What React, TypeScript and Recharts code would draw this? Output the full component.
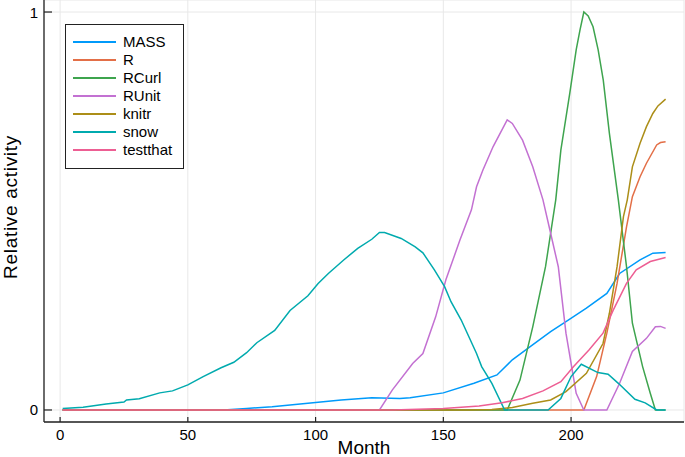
import React from "react";
import { LineChart, Line, XAxis, YAxis, CartesianGrid, Legend, Label } from "recharts";

// [month, relative activity]
const mass: [number, number][] = [
  [1, 0], [64, 0], [73, 0.004], [83, 0.008], [99, 0.018], [110, 0.025], [122, 0.031],
  [133, 0.029], [137, 0.031], [150, 0.043], [162, 0.067], [171, 0.088], [177, 0.126],
  [184, 0.159], [192, 0.197], [198, 0.222], [206, 0.256], [214, 0.293], [219, 0.343],
  [227, 0.377], [232, 0.394], [237, 0.396],
];
const rBase: [number, number][] = [
  [1, 0], [205, 0], [210, 0.084], [214, 0.193], [218, 0.318], [221.7, 0.46], [224, 0.536],
  [227, 0.586], [229.5, 0.62], [233.5, 0.666], [235, 0.672], [237, 0.674],
];
const rcurl: [number, number][] = [
  [1, 0], [175, 0], [180, 0.075], [185, 0.209], [190, 0.36], [194, 0.528], [196, 0.653],
  [199.5, 0.796], [202, 0.905], [203.5, 0.955], [205, 1.0], [206.7, 0.99], [208.6, 0.963],
  [210.6, 0.905], [212.6, 0.829], [215, 0.695], [218.5, 0.528], [221.7, 0.36], [224, 0.218],
  [228, 0.109], [231, 0.042], [233, 0], [237, 0],
];
const runit: [number, number][] = [
  [1, 0], [125, 0], [130, 0.05], [138, 0.117], [142, 0.142], [147, 0.234], [151, 0.327],
  [156.5, 0.427], [161, 0.503], [163, 0.561], [165.5, 0.603], [169.5, 0.662], [175, 0.729],
  [177, 0.72], [181, 0.678], [185, 0.611], [189, 0.528], [192, 0.444], [195, 0.36],
  [198, 0.193], [202, 0.042], [205, 0], [214, 0], [219, 0.067], [224, 0.147], [229.5, 0.18],
  [233, 0.209], [235, 0.21], [237, 0.205],
];
const knitr: [number, number][] = [
  [1, 0], [160, 0], [169, 0.001], [177, 0.006], [185, 0.017], [192, 0.025], [198, 0.046],
  [206, 0.092], [212.5, 0.167], [215, 0.243], [218, 0.36], [220.5, 0.486], [222, 0.528],
  [224, 0.611], [227, 0.67], [229.5, 0.712], [232, 0.745], [234, 0.764], [237, 0.781],
];
const snow: [number, number][] = [
  [1, 0.004], [9, 0.007], [18, 0.015], [25, 0.02], [26, 0.025], [31, 0.028], [39, 0.043],
  [44, 0.048], [50, 0.063], [56, 0.084], [63, 0.106], [68, 0.12], [73, 0.144], [77, 0.169],
  [84, 0.2], [90, 0.25], [97, 0.287], [101, 0.318], [105, 0.343], [111, 0.377],
  [116.5, 0.406], [122, 0.429], [125, 0.446], [127, 0.446], [133.5, 0.431], [139, 0.41],
  [142, 0.395], [146.5, 0.352], [150.5, 0.31], [153, 0.272], [157, 0.226], [163, 0.142],
  [165, 0.109], [169, 0.067], [174, 0], [191, 0], [196, 0.029], [200, 0.084], [204, 0.115],
  [210.5, 0.094], [214.5, 0.09], [218.5, 0.067], [225, 0.027], [229, 0.018], [233.5, 0], [237, 0],
];
const testthat: [number, number][] = [
  [1, 0], [130, 0], [150, 0.004], [164, 0.01], [173, 0.018], [181, 0.029], [189, 0.048],
  [196, 0.071], [201, 0.109], [207, 0.151], [212.5, 0.193], [216.5, 0.251], [221.7, 0.318],
  [225.5, 0.352], [231, 0.373], [237, 0.383],
];

const monthTicks = [0, 50, 100, 150, 200];
const activityTicks = [0, 1];

const series = [
  { name: "MASS", points: mass, color: "#009AFA" },
  { name: "R", points: rBase, color: "#E36F47" },
  { name: "RCurl", points: rcurl, color: "#3EA44E" },
  { name: "RUnit", points: runit, color: "#C371D2" },
  { name: "knitr", points: knitr, color: "#AC8E18" },
  { name: "snow", points: snow, color: "#00AAAE" },
  { name: "testthat", points: testthat, color: "#ED5E93" },
];

const FONT = "'Liberation Sans', Arial, sans-serif";
const AXIS = "#222";

function XTick({ x, y, payload }: any) {
  return (
    <g>
      <line x1={x} y1={y} x2={x} y2={y - 5} stroke={AXIS} strokeWidth={1.2} />
      <text x={x} y={y + 18} textAnchor="middle" fontSize={15} fontFamily={FONT} fill="#000">
        {payload.value}
      </text>
    </g>
  );
}

function YTick({ x, y, payload }: any) {
  return (
    <g>
      <line x1={x} y1={y} x2={x + 8} y2={y} stroke={AXIS} strokeWidth={1.2} />
      <text x={x - 6} y={y + 5.5} textAnchor="end" fontSize={15} fontFamily={FONT} fill="#000">
        {payload.value}
      </text>
    </g>
  );
}

function LegendBox() {
  return (
    <div
      style={{
        boxSizing: "border-box",
        width: 119,
        height: 145,
        border: "1px solid #222",
        background: "#fff",
        paddingTop: 8,
        fontFamily: FONT,
        fontSize: 15,
        color: "#000",
      }}
    >
      {series.map((s) => (
        <div key={s.name} style={{ display: "flex", alignItems: "center", height: 18, lineHeight: "18px" }}>
          <span style={{ display: "inline-block", width: 43, height: 1.6, background: s.color, marginLeft: 7, marginRight: 7 }} />
          <span>{s.name}</span>
        </div>
      ))}
    </div>
  );
}

export default function App() {
  return (
    <div style={{ position: "absolute", left: 0, top: 0, width: 685, height: 457, background: "#fff" }}>
      <LineChart width={685} height={457} margin={{ top: 0, right: 1, bottom: 0, left: 0 }}>
        <CartesianGrid stroke="#e8e8e8" strokeWidth={1} />
        <XAxis
          type="number"
          dataKey="m"
          domain={[-6.3, 244.2]}
          ticks={monthTicks}
          allowDataOverflow
          height={35}
          tickSize={0}
          tickMargin={0}
          tick={<XTick />}
          axisLine={{ stroke: AXIS, strokeWidth: 1.3 }}
        >
          <Label
            content={({ viewBox }: any) => (
              <text
                x={viewBox.x + viewBox.width / 2}
                y={viewBox.y + 32}
                textAnchor="middle"
                fontSize={19}
                fontFamily={FONT}
                fill="#000"
              >
                Month
              </text>
            )}
          />
        </XAxis>
        <YAxis
          type="number"
          domain={[-0.0302, 1.0302]}
          ticks={activityTicks}
          allowDataOverflow
          width={44}
          tickSize={0}
          tickMargin={0}
          tick={<YTick />}
          axisLine={{ stroke: AXIS, strokeWidth: 1.3 }}
        >
          <Label
            content={({ viewBox }: any) => {
              const cx = 17;
              const cy = viewBox.y + viewBox.height / 2 - 4;
              return (
                <text
                  x={cx}
                  y={cy}
                  transform={`rotate(-90 ${cx} ${cy})`}
                  textAnchor="middle"
                  fontSize={19}
                  letterSpacing={0.7}
                  fontFamily={FONT}
                  fill="#000"
                >
                  Relative activity
                </text>
              );
            }}
          />
        </YAxis>
        <Legend
          layout="vertical"
          align="center"
          verticalAlign="middle"
          wrapperStyle={{ left: 65, top: 24, width: 119, height: 145 }}
          content={() => <LegendBox />}
        />
        {series.map((s) => (
          <Line
            key={s.name}
            name={s.name}
            data={s.points.map(([m, v]) => ({ m, v }))}
            dataKey="v"
            type="linear"
            stroke={s.color}
            strokeWidth={1.5}
            dot={false}
            activeDot={false}
            isAnimationActive={false}
          />
        ))}
      </LineChart>
    </div>
  );
}
